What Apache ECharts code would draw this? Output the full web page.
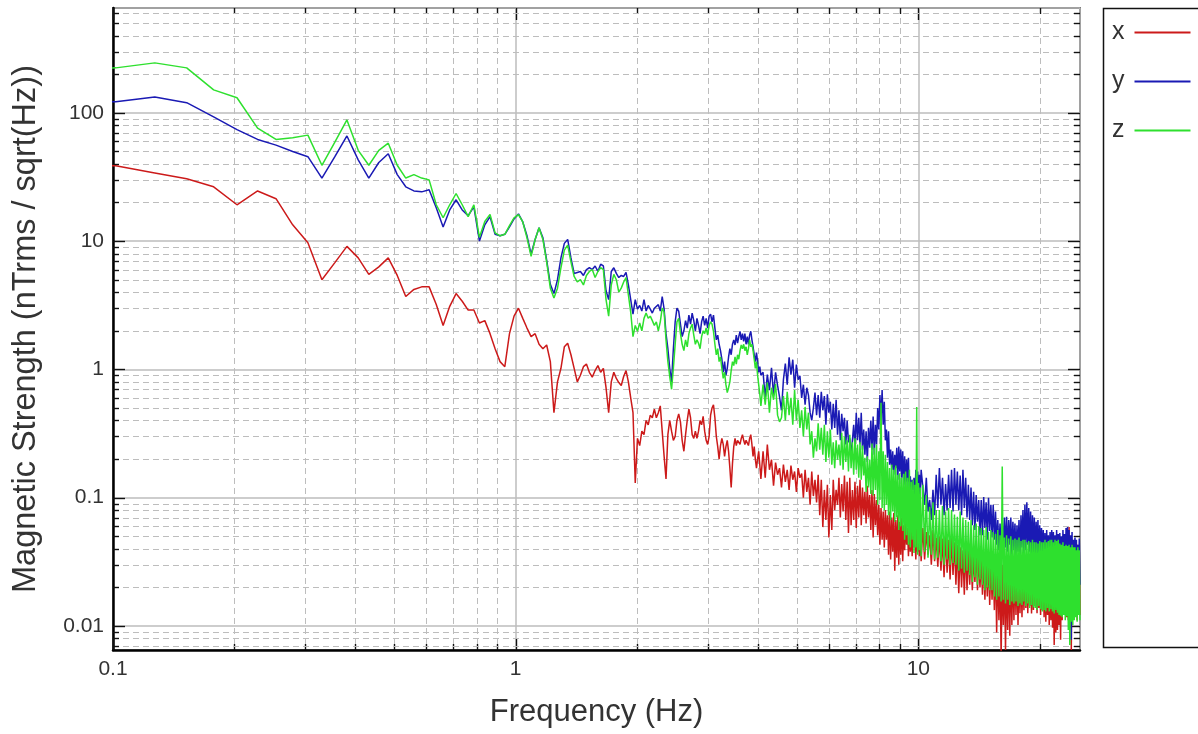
<!DOCTYPE html>
<html><head><meta charset="utf-8">
<script src="https://cdn.jsdelivr.net/npm/echarts@6/dist/echarts.min.js"></script>
<style>html,body{margin:0;padding:0;background:#fff}#c{width:1198px;height:734px}</style>
</head><body><div id="c"></div><script>
// FFT bin spacing (Hz) and the bin index ranges plotted: [firstK, lastK, step]
const DF = 0.0254;
const BIN_SEGMENTS = [[3,160,1],[162,400,2],[404,992,4]];

// x component (nTrms/sqrt(Hz))
const X_LOW = [39,38.6,34,30.6,26.5,19.2,24.6,21.4,13.4,9.7,
5,6.8,9.1,7.4,5.5,6.3,7.4,5.4,3.7,4.2,
4.4,4.4,3.2,2.2,3.1,3.9,3.4,2.9,2.9,2.3,
2.4,1.9,1.45,1.15,1.05,1.9,2.6,3.0,
2.5,2.1,1.8,1.9,1.57,1.45,1.55,1.15,0.46,0.8,
1.02,1.5,1.6,1.3,1.02,0.8,0.9,1.05,1.1,0.95,
0.87,0.98,1.07,0.95,1.02,0.72,0.46,0.8,0.95,0.85,
0.79,0.75,0.88,0.98,0.8,0.6,0.46,0.13,0.29,0.255,
0.33,0.31,0.4,0.37,0.44,0.42,0.49,0.42,0.46,0.52,
0.53,0.21,0.14,0.31,0.4,0.33,0.28,0.3,0.4,0.45,
0.39,0.28,0.23,0.31,0.4,0.49,0.42,0.31,0.29,0.33,
0.29,0.33,0.4,0.37,0.43,0.33,0.28,0.26,0.3,0.44,
0.5,0.53,0.42,0.3,0.25,0.2,0.255,0.29,0.26,0.21,
0.25,0.28,0.23,0.17,0.12,0.185,0.25,0.29,0.255,0.28,
0.29,0.26,0.29,0.31,0.28,0.26,0.28,0.29,0.255,0.29,
0.31,0.26,0.21,0.25,0.2,0.17,0.2,0.23,0.18,0.14];
const X_MID = [0.23,0.143,0.26,0.165,0.198,0.124,0.188,0.151,0.17,0.12,
0.181,0.133,0.165,0.115,0.178,0.138,0.16,0.111,0.17,0.143,
0.154,0.1,0.165,0.111,0.143,0.088,0.16,0.103,0.138,0.092,
0.151,0.073,0.138,0.059,0.115,0.067,0.126,0.049,0.105,0.056,
0.138,0.08,0.115,0.088,0.143,0.07,0.128,0.078,0.149,0.067,
0.133,0.053,0.143,0.061,0.115,0.067,0.133,0.058,0.124,0.07,
0.138,0.061,0.12,0.073,0.111,0.063,0.124,0.07,0.105,0.056,
0.115,0.049,0.107,0.061,0.096,0.051,0.088,0.043,0.083,0.047,
0.078,0.041,0.08,0.047,0.073,0.036,0.078,0.033,0.07,0.038,
0.076,0.027,0.067,0.034,0.073,0.03,0.065,0.036,0.07,0.032,
0.061,0.039,0.063,0.043,0.058,0.035,0.06,0.038,0.056,0.035,
0.059,0.041,0.054,0.033,0.058,0.038,0.052,0.035,0.056,0.032];
const X_HIGH = [0.058,0.033,0.054,0.036,0.051,0.03,0.056,0.032,0.049,0.029,
0.05,0.027,0.048,0.024,0.051,0.026,0.047,0.023,0.049,0.025,
0.045,0.021,0.043,0.018,0.041,0.02,0.039,0.0175,0.042,0.019,
0.039,0.021,0.037,0.019,0.035,0.022,0.038,0.019,0.035,0.02,
0.034,0.0175,0.033,0.016,0.032,0.017,0.034,0.0146,0.031,0.016,
0.031,0.0133,0.033,0.0089,0.03,0.0111,0.032,0.0054,0.03,0.0102,
0.03,0.0065,0.029,0.0093,0.031,0.0084,0.029,0.0102,0.03,0.0111,
0.029,0.0122,0.03,0.0102,0.027,0.0126,0.029,0.0117,0.028,0.0133,
0.027,0.0138,0.029,0.0126,0.027,0.0143,0.028,0.0125,0.027,0.0133,
0.027,0.0143,0.026,0.0126,0.028,0.0138,0.027,0.0122,0.027,0.0133,
0.027,0.0117,0.029,0.0108,0.027,0.0122,0.028,0.0102,0.026,0.0111,
0.027,0.0097,0.029,0.0071,0.027,0.0089,0.028,0.0093,0.026,0.0102,
0.027,0.0078,0.03,0.0111,0.033,0.0122,0.036,0.0124,0.043,0.0117,
0.051,0.0111,0.059,0.0126,0.047,0.0065,0.043,0.0117,0.039,0.0122,
0.041,0.0126,0.038,0.0111,0.043,0.0133,0.039,0.0122];

// y component
const Y_LOW = [118,122,133,120,93,74,62,56,50,45.5,
31,45.5,66,43,31,41,48,33,26.5,24.6,
24.2,25.1,18.2,12.9,17.5,21,17.5,15.8,18.5,10,
13.4,15.5,11.3,11,11.3,12.9,14.9,16.3,
14.1,11,7.9,10.3,12.7,10.6,7.1,4.6,3.9,5.0,
7.4,9.6,10.3,7.4,5.6,5.7,5.8,5.4,6.0,6.2,
6.0,6.4,5.8,6.6,6.4,4.1,3.5,5.8,6.2,5.6,
5.2,5.4,5.3,5.7,4.55,3.5,2.7,3.5,2.95,3.15,
2.85,3.5,2.85,3.15,2.95,2.75,3.0,2.9,3.2,2.85,
3.7,2.95,1.9,1.45,1.02,0.8,1.45,2.35,3.0,2.85,
2.25,1.8,2.0,2.4,2.1,2.65,2.25,2.75,2.4,2.0,
2.5,2.2,1.9,2.35,2.6,2.2,2.5,2.1,2.6,2.7,
2.35,2.65,2.1,1.7,1.85,1.57,1.4,1.2,0.95,1.15,
0.9,1.02,1.25,1.45,1.3,1.57,1.7,1.55,1.85,1.6,
1.8,1.98,1.7,1.9,1.65,1.9,1.57,1.8,1.57,1.85,
1.98,1.7,1.5,1.3,1.15,1.35,1.15,0.95,1.05,0.9];
const Y_MID = [0.95,0.6,0.91,0.69,1.03,0.63,0.95,0.75,0.61,0.48,
0.83,1.11,0.76,1.24,0.91,1.19,0.72,1.09,0.83,0.89,
0.6,0.76,0.53,0.72,0.63,0.46,0.4,0.5,0.66,0.44,
0.63,0.42,0.67,0.48,0.62,0.37,0.64,0.46,0.56,0.34,
0.54,0.35,0.58,0.31,0.48,0.28,0.45,0.33,0.42,0.26,
0.4,0.27,0.29,0.216,0.28,0.37,0.245,0.46,0.28,0.42,
0.26,0.46,0.237,0.34,0.216,0.33,0.19,0.35,0.245,0.4,
0.237,0.43,0.216,0.37,0.26,0.5,0.34,0.63,0.4,0.69,
0.37,0.56,0.28,0.34,0.205,0.33,0.181,0.237,0.165,0.23,
0.151,0.216,0.17,0.245,0.138,0.25,0.16,0.237,0.143,0.23,
0.126,0.21,0.115,0.198,0.133,0.205,0.105,0.147,0.096,0.138,
0.115,0.143,0.088,0.165,0.105,0.16,0.096,0.151,0.1,0.165];
const Y_HIGH = [0.16,0.088,0.143,0.078,0.096,0.067,0.115,0.073,0.151,0.083,
0.17,0.088,0.143,0.073,0.128,0.08,0.151,0.083,0.165,0.078,
0.17,0.088,0.16,0.08,0.149,0.073,0.165,0.083,0.143,0.07,
0.126,0.067,0.12,0.061,0.111,0.056,0.105,0.065,0.096,0.051,
0.096,0.051,0.101,0.058,0.092,0.047,0.1,0.055,0.088,0.049,
0.088,0.047,0.078,0.043,0.067,0.039,0.063,0.041,0.07,0.038,
0.07,0.041,0.071,0.038,0.067,0.043,0.07,0.036,0.065,0.039,
0.063,0.035,0.061,0.038,0.067,0.033,0.073,0.041,0.08,0.036,
0.088,0.039,0.092,0.043,0.083,0.038,0.078,0.034,0.073,0.036,
0.07,0.033,0.065,0.036,0.067,0.03,0.061,0.033,0.058,0.032,
0.056,0.03,0.053,0.027,0.056,0.032,0.051,0.028,0.054,0.026,
0.056,0.028,0.054,0.026,0.051,0.03,0.056,0.025,0.052,0.027,
0.053,0.024,0.05,0.026,0.056,0.023,0.052,0.025,0.058,0.021,
0.059,0.019,0.056,0.012,0.051,0.0078,0.054,0.016,0.047,0.0175,
0.049,0.019,0.047,0.016,0.043,0.023,0.048,0.021];

// z component
const Z_LOW = [215,224,245,224,151,131,76,62,64,67,
39,59,88,51,39,51,58,39,31,33,
31,30,19.2,15.2,19.2,23.5,19.2,15.5,19.2,10.7,
14.2,16.1,11.6,11.0,11.3,13.2,15.2,16.1,
14.1,10.6,7.6,10.3,12.7,10.3,6.9,4.3,3.6,4.3,
6.2,8.5,9.3,6.9,5.3,4.8,5.0,4.55,5.4,5.8,
6.0,5.2,5.8,6.2,6.0,3.5,2.6,4.55,5.5,5.0,
4.0,4.3,4.8,5.2,3.8,2.8,1.8,2.2,1.98,2.3,
2.0,2.5,2.75,2.5,2.6,2.4,2.2,2.35,2.0,2.35,
3.0,2.8,1.7,1.15,0.88,0.7,1.02,1.57,2.35,2.5,
1.9,1.57,1.4,1.7,1.5,1.9,2.1,2.25,1.85,1.57,
1.7,1.6,1.45,1.8,2.0,1.9,2.1,1.85,2.2,2.35,
2.25,1.98,1.57,1.3,1.45,1.15,1.25,1.02,0.85,0.95,
0.76,0.66,0.72,0.8,0.98,1.15,1.07,1.25,1.1,1.3,
1.2,1.4,1.55,1.45,1.57,1.4,1.5,1.3,1.45,1.7,
1.5,1.57,1.4,1.2,1.02,1.15,0.9,0.76,0.64,0.52];
const Z_MID = [0.76,0.53,0.79,0.46,0.72,0.58,0.77,0.44,0.39,0.42,
0.62,0.4,0.67,0.44,0.6,0.37,0.69,0.4,0.58,0.35,
0.48,0.3,0.51,0.34,0.46,0.26,0.33,0.205,0.29,0.23,
0.38,0.237,0.35,0.216,0.37,0.19,0.33,0.205,0.34,0.181,
0.27,0.17,0.28,0.198,0.26,0.178,0.32,0.165,0.3,0.19,
0.28,0.16,0.31,0.17,0.27,0.151,0.29,0.165,0.26,0.143,
0.27,0.138,0.255,0.149,0.205,0.111,0.21,0.12,0.198,0.107,
0.265,0.104,0.245,0.115,0.26,0.088,0.23,0.096,0.55,0.083,
0.23,0.08,0.216,0.088,0.19,0.073,0.17,0.067,0.181,0.078,
0.165,0.065,0.178,0.07,0.151,0.056,0.155,0.06,0.143,0.055,
0.154,0.047,0.16,0.051,0.143,0.043,0.165,0.041,0.133,0.047,
0.138,0.037,0.126,0.041,0.51,0.036,0.13,0.039,0.12,0.035];
const Z_HIGH = [0.126,0.038,0.105,0.034,0.085,0.036,0.092,0.033,0.08,0.034,
0.08,0.032,0.086,0.03,0.078,0.033,0.083,0.03,0.08,0.031,
0.074,0.03,0.071,0.027,0.078,0.028,0.07,0.026,0.067,0.027,
0.065,0.025,0.067,0.022,0.061,0.024,0.063,0.021,0.06,0.023,
0.058,0.021,0.056,0.019,0.059,0.02,0.054,0.019,0.056,0.019,
0.054,0.017,0.052,0.016,0.056,0.017,0.051,0.0155,0.175,0.016,
0.049,0.015,0.051,0.016,0.048,0.0146,0.05,0.0155,0.047,0.015,
0.048,0.0155,0.047,0.0143,0.049,0.015,0.046,0.0146,0.047,0.0155,
0.047,0.0143,0.045,0.015,0.046,0.0138,0.045,0.0146,0.047,0.014,
0.045,0.0138,0.045,0.0133,0.044,0.0143,0.046,0.0135,0.045,0.013,
0.045,0.0133,0.047,0.013,0.045,0.0138,0.046,0.013,0.047,0.0135,
0.047,0.013,0.045,0.0125,0.047,0.0133,0.046,0.0127,0.047,0.0122,
0.044,0.012,0.043,0.0117,0.045,0.0122,0.042,0.0111,0.043,0.0119,
0.042,0.0093,0.043,0.0071,0.041,0.0108,0.043,0.0102,0.041,0.0111,
0.041,0.0117,0.039,0.0108,0.041,0.0122,0.039,0.0111];

// axis ticks
const X_MAJOR = [0.1, 1, 10];
const X_MINOR = [0.2,0.3,0.4,0.5,0.6,0.7,0.8,0.9,2,3,4,5,6,7,8,9,20];
const Y_MAJOR = [0.01, 0.1, 1, 10, 100];
const Y_MINOR = [0.007,0.008,0.009,0.02,0.03,0.04,0.05,0.06,0.07,0.08,0.09,
0.2,0.3,0.4,0.5,0.6,0.7,0.8,0.9,2,3,4,5,6,7,8,9,
20,30,40,50,60,70,80,90,200,300,400,500,600];
const X_RANGE = [0.1, 25.2];
const Y_RANGE = [0.0065, 656];

const FREQ = [];
BIN_SEGMENTS.forEach(function (s) { for (let k = s[0]; k <= s[1]; k += s[2]) FREQ.push(+(k * DF).toFixed(4)); });
function pairs(arr) { return arr.map(function (v, i) { return [FREQ[i], v]; }); }
const SX = X_LOW.concat(X_MID, X_HIGH), SY = Y_LOW.concat(Y_MID, Y_HIGH), SZ = Z_LOW.concat(Z_MID, Z_HIGH);

const FONT = 'Liberation Sans, Arial, sans-serif';
const GRID_DASH = '#bdbdbd', GRID_SOLID = '#bcbcbc', TICK = '#111';

function fmt(v) { const l = Math.log10(v); return Math.abs(l - Math.round(l)) < 1e-6 ? String(+v.toPrecision(6)) : ''; }

function renderX(params, api) {
  const cs = params.coordSys;
  const x = Math.round(api.coord([api.value(0), 1])[0]) + 0.5;
  const len = api.value(2), dashed = api.value(3);
  const ch = [];
  if (dashed) ch.push({ type: 'line', shape: { x1: x, y1: cs.y, x2: x, y2: cs.y + cs.height }, style: { stroke: GRID_DASH, lineWidth: 1, lineDash: [6, 4] } });
  ch.push({ type: 'line', shape: { x1: x, y1: cs.y + cs.height, x2: x, y2: cs.y + cs.height - len }, style: { stroke: TICK, lineWidth: 1.4 } });
  ch.push({ type: 'line', shape: { x1: x, y1: cs.y, x2: x, y2: cs.y + len }, style: { stroke: TICK, lineWidth: 1.4 } });
  return { type: 'group', children: ch };
}
function renderY(params, api) {
  const cs = params.coordSys;
  const y = Math.round(api.coord([1, api.value(1)])[1]) + 0.5;
  const len = api.value(2), dashed = api.value(3);
  const ch = [];
  if (dashed) ch.push({ type: 'line', shape: { x1: cs.x, y1: y, x2: cs.x + cs.width, y2: y }, style: { stroke: GRID_DASH, lineWidth: 1, lineDash: [6, 4] } });
  ch.push({ type: 'line', shape: { x1: cs.x, y1: y, x2: cs.x + len, y2: y }, style: { stroke: TICK, lineWidth: 1.4 } });
  ch.push({ type: 'line', shape: { x1: cs.x + cs.width, y1: y, x2: cs.x + cs.width - len, y2: y }, style: { stroke: TICK, lineWidth: 1.4 } });
  return { type: 'group', children: ch };
}

const xTickData = X_MINOR.map(function (v) { return [v, 1, 6, 1]; }).concat(X_MAJOR.map(function (v) { return [v, 1, 12, 0]; }));
const yTickData = Y_MINOR.map(function (v) { return [1, v, 6, 1]; }).concat(Y_MAJOR.map(function (v) { return [1, v, 12, 0]; }));

const chart = echarts.init(document.getElementById('c'), null, { renderer: 'canvas' });
chart.setOption({
  animation: false,
  backgroundColor: '#fff',
  grid: { left: 113, top: 8, right: 118, bottom: 84, show: true, borderColor: '#1a1a1a', borderWidth: 1.5, backgroundColor: 'transparent' },
  xAxis: {
    type: 'log', logBase: 10, min: X_RANGE[0], max: X_RANGE[1],
    name: 'Frequency (Hz)', nameLocation: 'middle', nameGap: 47,
    nameTextStyle: { fontSize: 31, color: '#333', fontFamily: FONT },
    axisLine: { lineStyle: { color: '#000', width: 2.5 } },
    axisTick: { show: false },
    axisLabel: { formatter: fmt, fontSize: 21, color: '#333', margin: 9, fontFamily: FONT },
    splitLine: { show: true, lineStyle: { color: GRID_SOLID, width: 1.5 } }
  },
  yAxis: {
    type: 'log', logBase: 10, min: Y_RANGE[0], max: Y_RANGE[1],
    name: 'Magnetic Strength (nTrms / sqrt(Hz))', nameLocation: 'middle', nameGap: 70, nameRotate: 90,
    nameTextStyle: { fontSize: 32.5, color: '#333', fontFamily: FONT },
    axisLine: { lineStyle: { color: '#000', width: 2.5 } },
    axisTick: { show: false },
    axisLabel: { formatter: fmt, fontSize: 21, color: '#333', margin: 9, fontFamily: FONT },
    splitLine: { show: true, lineStyle: { color: GRID_SOLID, width: 1.5 } }
  },
  legend: {
    data: ['x', 'y', 'z'], orient: 'vertical', left: 1112, top: 20, padding: 0,
    align: 'right', icon: 'rect', itemWidth: 56, itemHeight: 2, itemGap: 24,
    textStyle: { fontSize: 25, color: '#333', fontFamily: FONT, lineHeight: 25, padding: [0, 5, 0, 0] }
  },
  graphic: [{ type: 'rect', z: -1, shape: { x: 1103.5, y: 8.5, width: 120, height: 639 }, style: { fill: '#fff', stroke: '#111', lineWidth: 1.5 } }],
  series: [
    { type: 'custom', coordinateSystem: 'cartesian2d', renderItem: renderX, data: xTickData, silent: true, z: 1 },
    { type: 'custom', coordinateSystem: 'cartesian2d', renderItem: renderY, data: yTickData, silent: true, z: 1 },
    { name: 'x', type: 'line', data: pairs(SX), showSymbol: false, symbol: 'none', color: '#cc1a1a', lineStyle: { width: 1.5, color: '#cc1a1a' }, z: 2 },
    { name: 'y', type: 'line', data: pairs(SY), showSymbol: false, symbol: 'none', color: '#1a1ab4', lineStyle: { width: 1.5, color: '#1a1ab4' }, z: 2 },
    { name: 'z', type: 'line', data: pairs(SZ), showSymbol: false, symbol: 'none', color: '#2ee02e', lineStyle: { width: 1.5, color: '#2ee02e' }, z: 2 }
  ]
});
</script></body></html>
